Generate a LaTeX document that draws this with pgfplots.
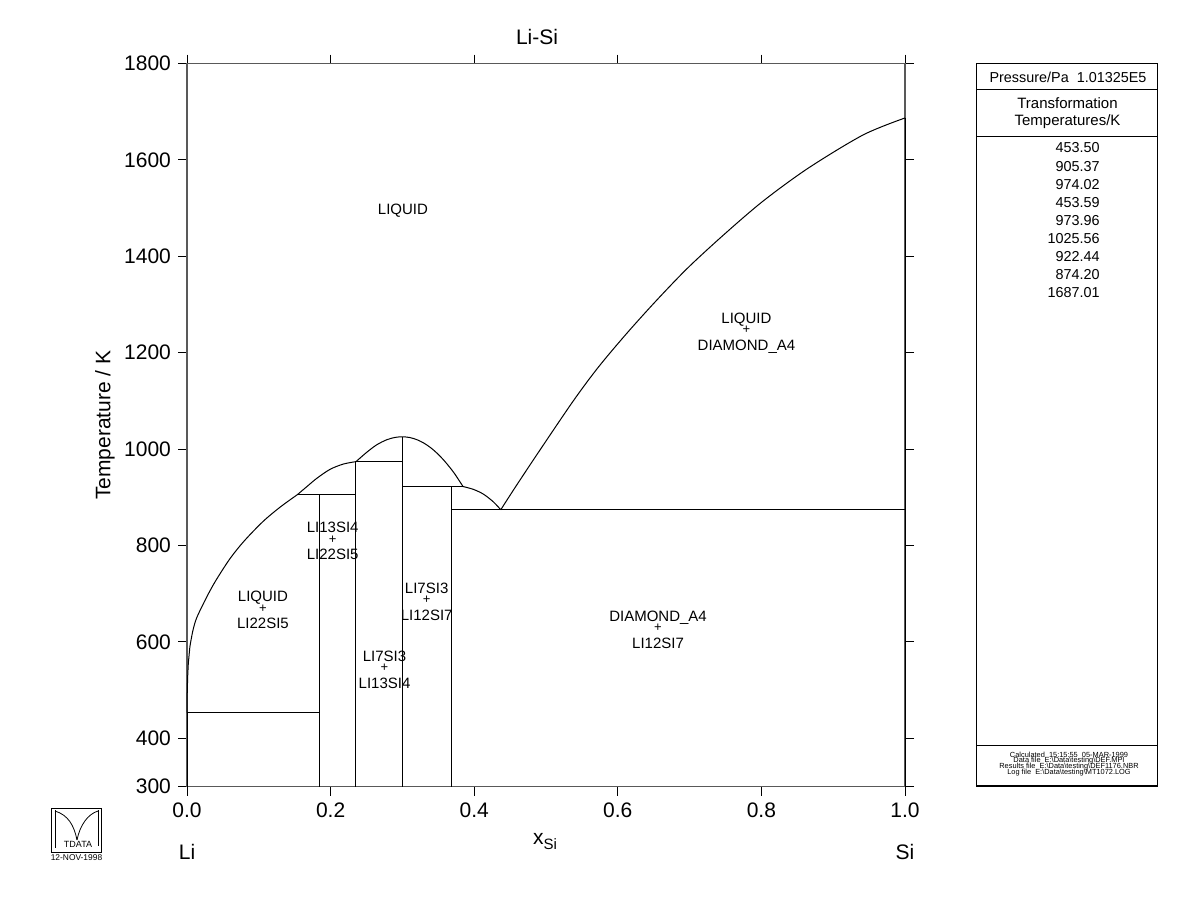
\documentclass[border=0pt]{standalone}
\usepackage{fontspec}
\setmainfont{Liberation Sans}
\usepackage{pgfplots}
\pgfplotsset{compat=1.18}
\newcommand\bigfont{\fontsize{10.5}{12}\selectfont}
\newcommand\lblfont{\fontsize{7.5}{9}\selectfont}
\tikzset{lbl/.style={font=\lblfont, inner sep=0pt, text height=5.4pt, text depth=0pt, anchor=center},
  pls/.style={font=\fontsize{6.5}{7}\selectfont, inner sep=0pt, anchor=center},
  ln/.style={black, line width=0.5pt, mark=none, solid}}
\begin{document}
\begin{tikzpicture}
\useasboundingbox (0,0) rectangle (600pt,-461.5pt);
\begin{axis}[
  at={(93.5pt,-393.25pt)}, anchor=south west,
  scale only axis, width=359pt, height=361.5pt,
  xmin=0, xmax=1, ymin=300, ymax=1800,
  xtick={0,0.2,0.4,0.6,0.8,1}, xticklabels={0.0,0.2,0.4,0.6,0.8,1.0},
  ytick={300,400,600,800,1000,1200,1400,1600,1800},
  tick align=outside, tick pos=both, major tick length=4.5pt,
  tick style={black, line width=0.5pt},
  axis line style={black!65, line width=0.6pt},
  ticklabel style={font=\bigfont},
  /pgf/number format/assume math mode=true,
  /pgf/number format/1000 sep={},
  clip=false,
]
% liquidus curves
\addplot[ln] coordinates {(0,453.5) (0.0002,480) (0.0004,500) (0.001,530) (0.0018,555) (0.004,590)};
\addplot[ln, smooth, tension=0.5] coordinates {(0.004,590) (0.008,622) (0.0135,650) (0.0274,693) (0.04,727) (0.06,773) (0.08,810) (0.106,850) (0.13,880) (0.1536,905.37)};
\addplot[ln, smooth] coordinates {(0.1536,905.37) (0.1667,921.9) (0.1806,939.2) (0.1992,958) (0.2177,969) (0.2353,974.02)};
\addplot[ln, smooth] coordinates {(0.2353,973.96) (0.25,993) (0.264,1008.7) (0.278,1019.3) (0.29,1024.3) (0.3,1025.56) (0.31,1024.1) (0.32,1019.7) (0.33,1012.4) (0.34,1002.2) (0.35,989) (0.36,973) (0.372,950.5) (0.3844,922.44)};
\addplot[ln, smooth] coordinates {(0.3844,922.44) (0.3988,916.5) (0.4127,906.7) (0.4266,890.7) (0.437,874.2)};
\addplot[ln, smooth, tension=0.5] coordinates {(0.437,874.2) (0.4568,920) (0.4893,993) (0.538,1100) (0.5729,1170) (0.6124,1240) (0.6542,1309) (0.6982,1377) (0.7493,1447) (0.8027,1515) (0.8653,1583) (0.9419,1652) (1.0,1687.01)};
% compound lines
\addplot[ln] coordinates {(0,300) (0,453.5)};
\addplot[ln] coordinates {(0.1852,300) (0.1852,905.37)};
\addplot[ln] coordinates {(0.2353,300) (0.2353,974.02)};
\addplot[ln] coordinates {(0.3,300) (0.3,1025.56)};
\addplot[ln] coordinates {(0.3684,300) (0.3684,922.44)};
\addplot[ln] coordinates {(1,300) (1,1687.01)};
% invariant lines
\addplot[ln] coordinates {(0,453.5) (0.1852,453.5)};
\addplot[ln] coordinates {(0.1536,905.37) (0.2353,905.37)};
\addplot[ln] coordinates {(0.2353,974.02) (0.3,974.02)};
\addplot[ln] coordinates {(0.3,922.44) (0.3844,922.44)};
\addplot[ln] coordinates {(0.3684,874.2) (1,874.2)};
% labels
\node[lbl] at (axis cs:0.3008,1498) {LIQUID};
\node[lbl, yshift=6.1pt] at (axis cs:0.7792,1247) {LIQUID};
\node[pls] at (axis cs:0.7792,1247) {+};
\node[lbl, yshift=-7.5pt] at (axis cs:0.7792,1247) {DIAMOND\_A4};
\node[lbl, yshift=6.1pt] at (axis cs:0.2029,812.9) {LI13SI4};
\node[pls] at (axis cs:0.2029,812.9) {+};
\node[lbl, yshift=-7.5pt] at (axis cs:0.2029,812.9) {LI22SI5};
\node[lbl, yshift=6.1pt] at (axis cs:0.1058,669.3) {LIQUID};
\node[pls] at (axis cs:0.1058,669.3) {+};
\node[lbl, yshift=-7.5pt] at (axis cs:0.1058,669.3) {LI22SI5};
\node[lbl, yshift=6.1pt] at (axis cs:0.3338,686.9) {LI7SI3};
\node[pls] at (axis cs:0.3338,686.9) {+};
\node[lbl, yshift=-7.5pt] at (axis cs:0.3338,686.9) {LI12SI7};
\node[lbl, yshift=6.1pt] at (axis cs:0.2751,545.9) {LI7SI3};
\node[pls] at (axis cs:0.2751,545.9) {+};
\node[lbl, yshift=-7.5pt] at (axis cs:0.2751,545.9) {LI13SI4};
\node[lbl, yshift=6.1pt] at (axis cs:0.656,628.8) {DIAMOND\_A4};
\node[pls] at (axis cs:0.656,628.8) {+};
\node[lbl, yshift=-7.5pt] at (axis cs:0.656,628.8) {LI12SI7};
\end{axis}
\begin{scope}[x=0.5pt,y=-0.5pt]
\node[font=\bigfont] at (537,37) {Li-Si};
\node[font=\bigfont, rotate=90] at (105,425) {Temperature / K};
\node[font=\bigfont, inner sep=0pt] at (545,842) {x\raisebox{-0.45ex}{\fontsize{7.5}{8}\selectfont Si}};
\node[font=\bigfont] at (187,852) {Li};
\node[font=\bigfont] at (905,852) {Si};
% right panel
\draw[line width=0.6pt] (976.5,63.5) rectangle (1157.5,786);
\draw[line width=0.5pt] (976.5,89) -- (1157.5,89);
\draw[line width=0.5pt] (976.5,136.5) -- (1157.5,136.5);
\draw[line width=0.5pt] (976.5,745) -- (1157.5,745);
\node[font=\fontsize{7.2}{8}\selectfont] at (1068,77) {Pressure/Pa\ \ 1.01325E5};
\node[font=\fontsize{7.5}{9}\selectfont] at (1067.5,103) {Transformation};
\node[font=\fontsize{7.5}{9}\selectfont] at (1067.5,122) {Temperatures/K};
\foreach \v [count=\i from 0] in {453.50,905.37,974.02,453.59,973.96,1025.56,922.44,874.20,1687.01}
  \node[font=\fontsize{7.2}{9}\selectfont, anchor=east, inner sep=0pt] at (1100,148+18.1*\i) {\v};
\tikzset{small/.style={font=\fontsize{3.7}{4}\selectfont, inner sep=0pt, anchor=center}}
\node[small] at (1069,755) {Calculated\ \ 15:15:55\ \ 05-MAR-1999};
\node[small] at (1069,761) {Data file\ \ E:\textbackslash Data\textbackslash testing\textbackslash DEF.MPI};
\node[small] at (1069,767) {Results file\ \ E:\textbackslash Data\textbackslash testing\textbackslash DEF1176.NBR};
\node[small] at (1069,772.7) {Log file\ \ E:\textbackslash Data\textbackslash testing\textbackslash MT1072.LOG};
% logo
\draw[line width=0.5pt] (51,808.5) rectangle (101.5,852);
\draw[line width=0.4pt] (55,810) -- (55,848);
\draw[line width=0.4pt] (55,811) .. controls (68,815) and (74,825) .. (77,840);
\draw[line width=0.4pt] (77,840) .. controls (80,825) and (88,814) .. (98,811);
\draw[line width=0.4pt] (98,810) -- (98,846);
\node[font=\fontsize{4.5}{5}\selectfont, inner sep=0pt] at (78,844) {TDATA};
\node[font=\fontsize{4.2}{5}\selectfont, inner sep=0pt] at (76.5,857.5) {12-NOV-1998};
\end{scope}
\end{tikzpicture}
\end{document}
